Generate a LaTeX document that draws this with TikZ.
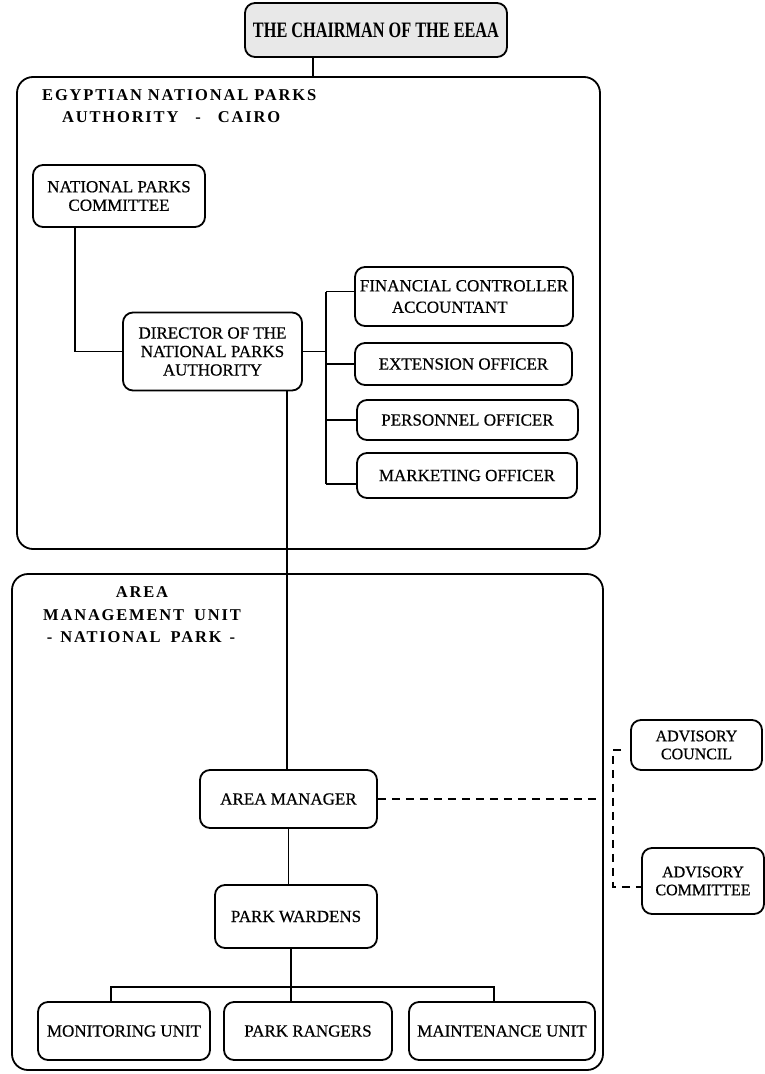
\documentclass[tikz,border=0pt]{standalone}
\usepackage{fontspec}
\setmainfont{Liberation Serif}
\newfontfamily\boxfont[FakeBold=0.5]{Liberation Serif}
\newfontfamily\chairfont[FakeStretch=0.74]{Liberation Serif}
\newfontfamily\titlefont[LetterSpace=11]{Liberation Serif}
\begin{document}
\begin{tikzpicture}[x=1pt,y=-1pt,
  box/.style={draw, line width=1.8pt, rounded corners=10pt, inner sep=0pt, align=center,
              font=\boxfont\fontsize{17}{18.5}\selectfont},
  frame/.style={draw, line width=1.8pt, rounded corners=16pt, inner sep=0pt},
  conn/.style={line width=1.6pt},
  dline/.style={line width=2pt, dash pattern=on 8pt off 6pt},
  ttl/.style={font=\titlefont\bfseries\fontsize{16.5}{21}\selectfont, inner sep=0pt}
]
\useasboundingbox (0,0) rectangle (765,1074);

% frames
\node[frame, minimum width=583pt, minimum height=472pt] (auth) at (308.5,313) {};
\node[frame, minimum width=591pt, minimum height=496pt] (amu) at (307.5,822) {};

% chairman
\node[box, fill=gray!18, minimum width=262pt, minimum height=54pt,
      font=\chairfont\bfseries\fontsize{22}{24}\selectfont] (chair) at (376,30) {THE CHAIRMAN OF THE EEAA};

% titles
\node[ttl, anchor=base west] (t1) at (42,100) {EGYPTIAN NATIONAL PARKS};
\node[ttl, anchor=base west] (t2) at (62,122) {AUTHORITY\hspace{17pt}-\hspace{17pt}CAIRO};
\node[ttl, anchor=base] (t3) at (142,597) {AREA};
\node[ttl, anchor=base] (t4) at (142,620) {MANAGEMENT\hspace{4pt} UNIT};
\node[ttl, anchor=base] (t5) at (141,642) {-\hspace{2pt} NATIONAL\hspace{4pt} PARK\hspace{2pt} -};

% authority boxes
\node[box, minimum width=172pt, minimum height=62pt] (committee) at (119,196) {NATIONAL PARKS\\COMMITTEE};
\node[box, minimum width=179pt, minimum height=78pt] (director) at (212.5,351.5) {DIRECTOR OF THE\\NATIONAL PARKS\\AUTHORITY};
\node[box, minimum width=218pt, minimum height=59pt, align=left] (fin) at (464,296.5) {FINANCIAL CONTROLLER\\[3pt]\hspace*{32pt}ACCOUNTANT};
\node[box, minimum width=217pt, minimum height=42pt] (ext) at (463.5,364) {EXTENSION OFFICER};
\node[box, minimum width=221pt, minimum height=40pt] (pers) at (467.5,420) {PERSONNEL OFFICER};
\node[box, minimum width=220pt, minimum height=45pt] (mkt) at (467,475.5) {MARKETING OFFICER};

% area unit boxes
\node[box, minimum width=177pt, minimum height=58pt] (am) at (288.5,799) {AREA MANAGER};
\node[box, minimum width=162pt, minimum height=63pt] (pw) at (296,916.5) {PARK WARDENS};
\node[box, minimum width=172pt, minimum height=58pt] (mu) at (124,1031) {MONITORING UNIT};
\node[box, minimum width=168pt, minimum height=58pt] (pr) at (308,1031) {PARK RANGERS};
\node[box, minimum width=186pt, minimum height=58pt] (mau) at (502,1031) {MAINTENANCE UNIT};

% advisory
\node[box, minimum width=131pt, minimum height=50pt, font=\boxfont\fontsize{16}{18}\selectfont] (council) at (696.5,745) {ADVISORY\\COUNCIL};
\node[box, minimum width=122pt, minimum height=66pt, font=\boxfont\fontsize{16}{18}\selectfont] (advcom) at (703,881) {ADVISORY\\COMMITTEE};

% helper coordinates
\coordinate (cl) at (313,0);
\coordinate (cx) at (75,0);
\coordinate (bx) at (326,0);
\coordinate (vl) at (287,0);
\coordinate (vw) at (291,0);
\coordinate (busL) at (111,987);
\coordinate (busR) at (494,987);
\coordinate (dend) at (598,799);
\coordinate (dv) at (613,0);

% connectors
\draw[conn] (cl |- chair.south) -- (cl |- auth.north);
\draw[conn] (cx |- committee.south) |- (director.west);
\draw[conn] (director.east) -- (bx |- director.east);
\draw[conn] ([yshift=5pt]bx |- fin.west) -- ([yshift=-8.5pt]bx |- mkt.west);
\draw[conn] ([yshift=5pt]bx |- fin.west) -- ([yshift=5pt]fin.west);
\draw[conn] (bx |- ext.west) -- (ext.west);
\draw[conn] (bx |- pers.west) -- (pers.west);
\draw[conn] ([yshift=-8.5pt]bx |- mkt.west) -- ([yshift=-8.5pt]mkt.west);
\draw[conn] (vl |- director.south) -- (vl |- am.north);
\draw[conn] (am.south) -- (am.south |- pw.north);
\draw[conn] (vw |- pw.south) -- (vw |- pr.north);
\draw[conn] (busL |- mu.north) -- (busL) -- (busR) -- (busR |- mau.north);

% dashed advisory links
\draw[dline] (am.east) -- (dend);
\draw[dline] ([shift={(-9,5)}]council.west) -| ([yshift=-6pt]dv |- advcom.west) -- ([yshift=-6pt]advcom.west);
\end{tikzpicture}
\end{document}
